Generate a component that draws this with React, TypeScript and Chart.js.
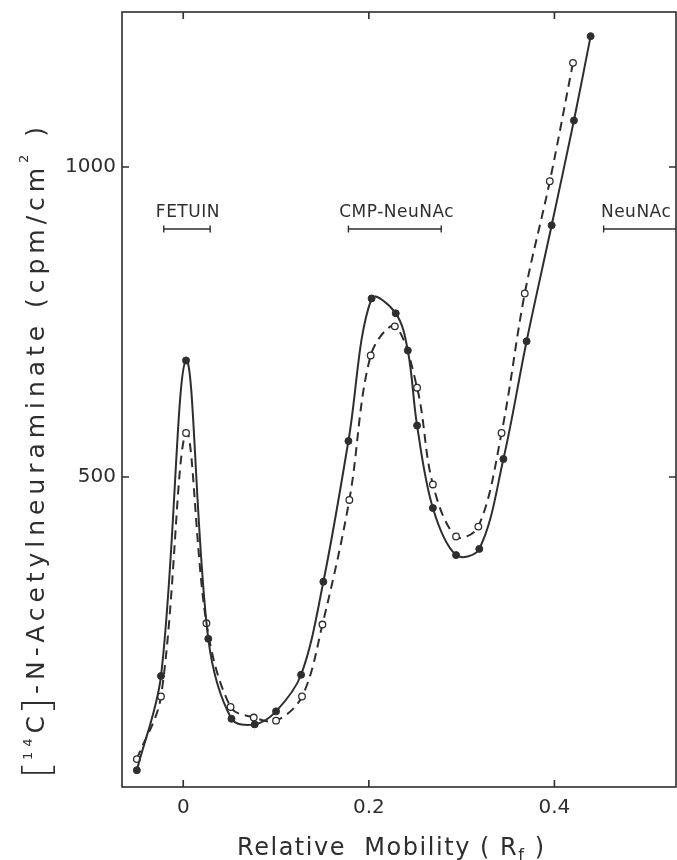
import React, { useEffect, useRef } from 'react';
import { Chart, registerables } from 'chart.js';

Chart.register(...registerables);

// ---- data ----
const solidRf = [-0.050, -0.024, 0.003, 0.027, 0.052, 0.077, 0.100, 0.127, 0.151, 0.178, 0.203, 0.229, 0.242, 0.252, 0.269, 0.294, 0.319, 0.345, 0.370, 0.397, 0.421, 0.439];
const solidCpm = [27, 179, 688, 239, 110, 101, 122, 181, 331, 558, 788, 764, 704, 583, 450, 374, 384, 529, 719, 906, 1075, 1211];
const openRf = [-0.050, -0.024, 0.003, 0.025, 0.051, 0.076, 0.100, 0.128, 0.150, 0.179, 0.202, 0.228, 0.252, 0.269, 0.294, 0.318, 0.343, 0.368, 0.395, 0.420];
const openCpm = [45, 146, 571, 264, 129, 112, 107, 146, 262, 463, 696, 743, 644, 488, 404, 420, 571, 796, 977, 1168];

const xTicks = [0, 0.2, 0.4];
const xTickLabels = ['0', '0.2', '0.4'];
const yTicks = [500, 1000];
const yTickLabels = ['500', '1000'];
const xRange = [-0.066, 0.531];
const yRange = [0, 1250];

const markerLabels = ['FETUIN', 'CMP-NeuNAc', 'NeuNAc'];
const markerStart = [-0.021, 0.178, 0.453];
const markerEnd = [0.029, 0.278, 0.6];
const markerLabelX = [0.005, 0.23, 0.488];
const markerLevel = 900;
const markerLabelLevel = 920;

const xTitle = ['Relative  Mobility ( R', 'f', ' )'];
const yTitle = ['[', '14', 'C', ']', '-N-Acetylneuraminate (cpm/cm', '2', ' )'];

const INK = '#2e2e2e';
const FONT = '"DejaVu Sans", sans-serif';
const THIN = '"DejaVu Sans ExtraLight", "Open Sans", "DejaVu Sans", sans-serif';

type Seg = { t: string; font: string; dy: number };

function drawSpaced(ctx: CanvasRenderingContext2D, segs: Seg[], target: number) {
  const anyCtx = ctx as any;
  anyCtx.letterSpacing = '0px';
  let natural = 0;
  let n = 0;
  for (const s of segs) {
    ctx.font = s.font;
    natural += ctx.measureText(s.t).width;
    n += s.t.length;
  }
  const sp = Math.max(0, (target - natural) / Math.max(1, n - 1));
  let x = 0;
  for (const s of segs) {
    ctx.font = s.font;
    anyCtx.letterSpacing = '0px';
    const w = ctx.measureText(s.t).width;
    anyCtx.letterSpacing = sp + 'px';
    ctx.fillText(s.t, x, s.dy);
    x += w + sp * s.t.length;
  }
  anyCtx.letterSpacing = '0px';
}

const zeroPad = (s: any) => {
  s.paddingTop = 0;
  s.paddingBottom = 0;
  s.paddingLeft = 0;
  s.paddingRight = 0;
};

const decorPlugin = {
  id: 'decor',
  afterDatasetsDraw(chart: any) {
    const { ctx, chartArea } = chart;
    const xs = chart.scales.x;
    const ys = chart.scales.y;
    const { left, right, top, bottom } = chartArea;
    ctx.save();
    ctx.strokeStyle = INK;
    ctx.fillStyle = INK;
    ctx.lineWidth = 1.6;
    ctx.strokeRect(left, top, right - left, bottom - top);
    const tl = 7;
    ctx.beginPath();
    for (const v of xTicks) {
      const px = xs.getPixelForValue(v);
      ctx.moveTo(px, bottom);
      ctx.lineTo(px, bottom - tl);
      ctx.moveTo(px, top);
      ctx.lineTo(px, top + tl);
    }
    for (const v of yTicks) {
      const py = ys.getPixelForValue(v);
      ctx.moveTo(left, py);
      ctx.lineTo(left + tl, py);
      ctx.moveTo(right, py);
      ctx.lineTo(right - tl, py);
    }
    ctx.stroke();

    // marker bars
    ctx.save();
    ctx.beginPath();
    ctx.rect(left, top, right - left, bottom - top);
    ctx.clip();
    ctx.lineWidth = 1.4;
    const by = ys.getPixelForValue(markerLevel);
    const ty = ys.getPixelForValue(markerLabelLevel);
    ctx.font = `17px ${FONT}`;
    ctx.textAlign = 'center';
    ctx.textBaseline = 'alphabetic';
    (ctx as any).letterSpacing = '0.5px';
    markerLabels.forEach((lab, i) => {
      const x0 = xs.getPixelForValue(markerStart[i]);
      const x1 = xs.getPixelForValue(markerEnd[i]);
      ctx.beginPath();
      ctx.moveTo(x0, by);
      ctx.lineTo(x1, by);
      ctx.moveTo(x0, by - 3.5);
      ctx.lineTo(x0, by + 3.5);
      ctx.moveTo(x1, by - 3.5);
      ctx.lineTo(x1, by + 3.5);
      ctx.stroke();
      ctx.fillText(lab, xs.getPixelForValue(markerLabelX[i]), ty);
    });
    (ctx as any).letterSpacing = '0px';
    ctx.restore();

    // x title
    ctx.textAlign = 'left';
    ctx.textBaseline = 'alphabetic';
    ctx.save();
    ctx.translate(237, 855);
    drawSpaced(ctx, [
      { t: xTitle[0], font: `24px ${FONT}`, dy: 0 },
      { t: xTitle[1], font: `16px ${FONT}`, dy: 5 },
      { t: xTitle[2], font: `24px ${FONT}`, dy: 0 },
    ], 307);
    ctx.restore();

    // y title
    ctx.save();
    ctx.translate(44, 777);
    ctx.rotate(-Math.PI / 2);
    drawSpaced(ctx, [
      { t: yTitle[0], font: `200 38px ${THIN}`, dy: 5 },
      { t: yTitle[1], font: `13px ${FONT}`, dy: -12 },
      { t: yTitle[2], font: `25px ${FONT}`, dy: 0 },
      { t: yTitle[3], font: `200 38px ${THIN}`, dy: 5 },
      { t: yTitle[4], font: `25px ${FONT}`, dy: 0 },
      { t: yTitle[5], font: `13px ${FONT}`, dy: -16 },
      { t: yTitle[6], font: `25px ${FONT}`, dy: 0 },
    ], 650);
    ctx.restore();

    ctx.restore();
  },
};

export default function App() {
  const ref = useRef<HTMLCanvasElement | null>(null);
  useEffect(() => {
    if (!ref.current) return;
    const chart = new Chart(ref.current, {
      type: 'line',
      data: {
        datasets: [
          {
            label: 'solid',
            data: solidRf.map((x, i) => ({ x, y: solidCpm[i] })),
            borderColor: INK,
            borderWidth: 2,
            backgroundColor: INK,
            pointBackgroundColor: INK,
            pointBorderColor: INK,
            pointRadius: 3.5,
            pointBorderWidth: 1,
            tension: 0.35,
            fill: false,
          },
          {
            label: 'open',
            data: openRf.map((x, i) => ({ x, y: openCpm[i] })),
            borderColor: INK,
            borderWidth: 2,
            borderDash: [9, 6],
            backgroundColor: '#ffffff',
            pointBackgroundColor: '#ffffff',
            pointBorderColor: INK,
            pointRadius: 3.3,
            pointBorderWidth: 1.3,
            tension: 0.35,
            fill: false,
          },
        ],
      },
      options: {
        responsive: false,
        animation: false,
        devicePixelRatio: 1,
        layout: { autoPadding: false, padding: { top: 12, right: 1, left: 0, bottom: 0 } },
        plugins: { legend: { display: false }, tooltip: { enabled: false } },
        scales: {
          x: {
            type: 'linear',
            min: xRange[0],
            max: xRange[1],
            grid: { display: false, drawTicks: false },
            border: { display: false },
            afterBuildTicks: (s: any) => {
              s.ticks = xTicks.map((v) => ({ value: v }));
            },
            afterFit: (s: any) => {
              s.height = 73;
              zeroPad(s);
            },
            ticks: {
              font: { family: FONT, size: 20 },
              color: INK,
              padding: 9,
              autoSkip: false,
              maxRotation: 0,
              callback: (v: any) => {
                const i = xTicks.indexOf(Number(v));
                return i >= 0 ? xTickLabels[i] : '';
              },
            },
          },
          y: {
            type: 'linear',
            min: yRange[0],
            max: yRange[1],
            grid: { display: false, drawTicks: false },
            border: { display: false },
            afterBuildTicks: (s: any) => {
              s.ticks = yTicks.map((v) => ({ value: v }));
            },
            afterFit: (s: any) => {
              s.width = 122;
              zeroPad(s);
            },
            ticks: {
              font: { family: FONT, size: 20 },
              color: INK,
              padding: 6,
              autoSkip: false,
              callback: (v: any) => {
                const i = yTicks.indexOf(Number(v));
                return i >= 0 ? yTickLabels[i] : '';
              },
            },
          },
        },
      },
      plugins: [decorPlugin],
    } as any);
    return () => chart.destroy();
  }, []);
  return (
    <div style={{ position: 'absolute', left: 0, top: 0, width: 677, height: 860, background: '#fff' }}>
      <canvas ref={ref} width={677} height={860} style={{ display: 'block' }} />
    </div>
  );
}
